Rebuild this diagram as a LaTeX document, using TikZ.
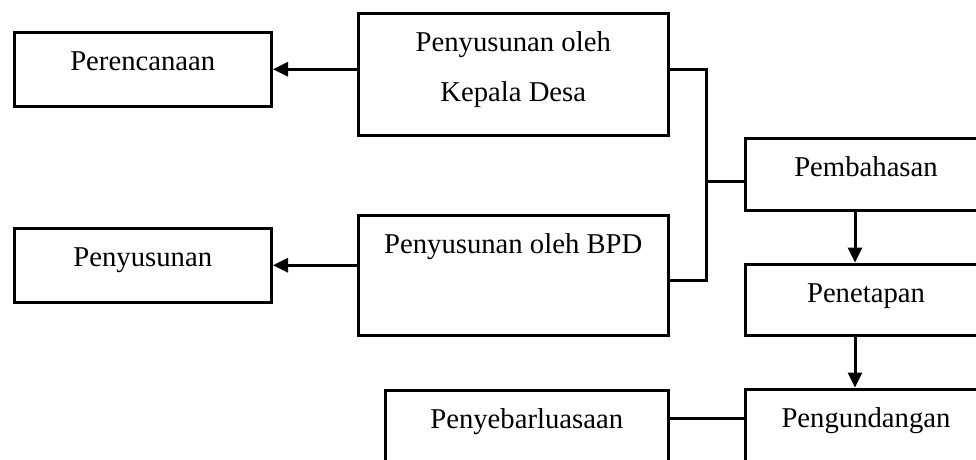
\documentclass[tikz,border=0pt]{standalone}
\usepackage{fontspec}
\setmainfont{Liberation Serif}
\usetikzlibrary{arrows.meta,positioning}

\begin{document}
\begin{tikzpicture}[x=1pt,y=-1pt,>={Triangle[length=15pt,width=14pt]},
                    line width=3pt]
  \tikzstyle{box}=[draw=black,line width=3.5pt,inner sep=0pt,anchor=north west,
                   align=center,text height=38.5pt,
                   font=\fontsize{28.7pt}{50pt}\selectfont]
  \useasboundingbox (0,0) rectangle (976,459);
  \clip (0,0) rectangle (976,459);

  \node[box,minimum width=257pt,text depth=35.5pt] (plan) at (12.5,30.5) {Perencanaan};
  \node[box,minimum width=257pt,text depth=35.5pt] (draft) at (12.5,226.5) {Penyusunan};
  % two lines: baseline sits on the last line
  \node[box,minimum width=310pt,text height=88.5pt,text depth=33.5pt] (kades) at (356.5,11.5)
    {Penyusunan oleh\\Kepala Desa};
  \node[box,minimum width=310pt,text depth=81.5pt] (bpd) at (356.5,213.5)
    {Penyusunan oleh BPD};
  \node[box,minimum width=241.5pt,text depth=33.5pt] (bahas) at (743.5,136.5) {Pembahasan};
  \node[box,minimum width=241.5pt,text depth=32.5pt] (tetap) at (743.5,262.5) {Penetapan};
  \node[box,minimum width=241.5pt,text depth=45pt] (undang) at (743.5,387.5) {Pengundangan};
  \node[box,minimum width=283pt,text depth=45pt] (sebar) at (383.5,388.5) {Penyebarluasaan};

  \coordinate (jn) at (706,181);
  \coordinate (link) at (666.5,418);

  \draw[->] (kades.west |- plan.east) -- (plan.east);
  \draw[->] (bpd.west |- draft.east) -- (draft.east);
  \draw (kades.east |- plan.east) -| (jn) |- ([yshift=-5.5pt]bpd.east);
  \draw (jn) -- (jn -| bahas.west);
  \draw[->] ([xshift=-11pt]bahas.south) -- ([xshift=-11pt]tetap.north);
  \draw[->] ([xshift=-11pt]tetap.south) -- ([xshift=-11pt]undang.north);
  \draw (link) -- (link -| undang.west);
\end{tikzpicture}
\end{document}
